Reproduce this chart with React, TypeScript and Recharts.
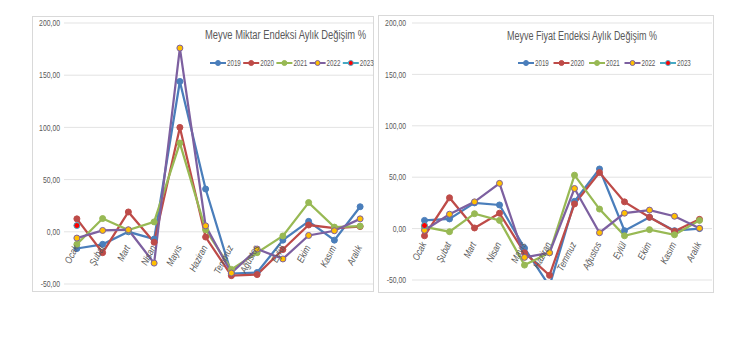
import React from 'react';
import { LineChart, Line, XAxis, YAxis, CartesianGrid, Legend } from 'recharts';

const months = ['Ocak', 'Şubat', 'Mart', 'Nisan', 'Mayıs', 'Haziran', 'Temmuz', 'Ağustos', 'Eylül', 'Ekim', 'Kasım', 'Aralık'];
const years = ['2019', '2020', '2021', '2022', '2023'];
const yTicks = [-50, 0, 50, 100, 150, 200];

// Meyve Miktar Endeksi
const miktar2019 = [-16, -12, 0, -7, 144, 41, -40, -39, -8, 10, -8, 24];
const miktar2020 = [12.4, -20, 19, -10, 100, -5, -42, -41, -17, 6.5, 3.5, 5];
const miktar2021 = [-12, 12.7, 1.6, 9.5, 85, 2, -36, -20, -4, 28, 4.5, 5.5];
const miktar2022 = [-6, 1.3, 2, -30, 176, 5.7, -39.5, -16.5, -26, -3.5, 1, 12.4];
const miktar2023 = [6, null, null, null, null, null, null, null, null, null, null, null];

// Meyve Fiyat Endeksi
const fiyat2019 = [8, 9.4, 25, 23, -19, -56, 26.5, 58, -2, 11, -2, 0];
const fiyat2020 = [-7, 30, 0.6, 15, -23.5, -45.5, 24, 54.5, 26, 11, -2.6, 9];
const fiyat2021 = [1.6, -3, 14.5, 8, -35.5, -23.5, 52, 19, -7, -1, -6, 8];
const fiyat2022 = [-1.6, 14, 26, 44, -28, -23.5, 39, -4, 15, 18, 12, 0.3];
const fiyat2023 = [3, null, null, null, null, null, null, null, null, null, null, null];

const lineColors = ['#4A7EBB', '#BE4B48', '#98B954', '#7D60A0', '#46AAC5'];
const markerColors = ['#4A7EBB', '#BE4B48', '#98B954', '#FFC000', '#FF0000'];

const FONT = '"Liberation Sans", Arial, sans-serif';
const TEXT = '#595959';

const buildRows = (series: (number | null)[][]) =>
  months.map((m, i) => {
    const row: Record<string, string | number | null> = { month: m };
    years.forEach((y, k) => {
      row[y] = series[k][i];
    });
    return row;
  });

const miktarData = buildRows([miktar2019, miktar2020, miktar2021, miktar2022, miktar2023]);
const fiyatData = buildRows([fiyat2019, fiyat2020, fiyat2021, fiyat2022, fiyat2023]);

const fmt = (v: number) => v.toFixed(2).replace('.', ',');

const MonthTick = ({ x, payload, zeroY }: any) => (
  <text
    transform={`translate(${x - 1},${zeroY + 14}) rotate(-63) scale(0.82,1)`}
    textAnchor="end"
    dy="0.35em"
    fontSize={10}
    fontStyle="italic"
    fill={TEXT}
    fontFamily={FONT}
  >
    {payload.value}
  </text>
);

const ValueTick = ({ x, y, payload }: any) => (
  <text
    transform={`translate(${x},${y}) scale(0.76,1)`}
    textAnchor="end"
    dy="0.35em"
    fontSize={9}
    fill={TEXT}
    fontFamily={FONT}
  >
    {fmt(payload.value)}
  </text>
);

const LegendBox = ({ step }: { step: number }) => (
  <svg width={step * 5 + 10} height={10} style={{ display: 'block', overflow: 'visible' }}>
    {years.map((y, i) => (
      <g key={y} transform={`translate(${i * step},0)`}>
        <line x1={0} y1={5} x2={16} y2={5} stroke={lineColors[i]} strokeWidth={2} />
        <circle cx={8} cy={5} r={2.5} fill={markerColors[i]} stroke={lineColors[i]} strokeWidth={1} />
        <text
          transform="translate(17,5) scale(0.73,1)"
          dy="0.35em"
          fontSize={8.5}
          fill={TEXT}
          fontFamily={FONT}
        >
          {y}
        </text>
      </g>
    ))}
  </svg>
);

interface PanelProps {
  data: Record<string, string | number | null>[];
  title: string;
  box: { left: number; top: number; width: number; height: number };
  margin: { top: number; right: number; bottom: number; left: number };
  yWidth: number;
  tickGap: number;
  titlePos: { left: number; top: number; scale: number };
  legendPos: { left: number; top: number; step: number };
}

function Panel({ data, title, box, margin, yWidth, tickGap, titlePos, legendPos }: PanelProps) {
  const w = box.width - 2;
  const h = box.height - 2;
  const plotH = h - margin.top - margin.bottom - 1;
  const plotW = w - margin.left - margin.right - yWidth;
  const half = plotW / months.length / 2;
  // category axis crosses the value axis at 0
  const zeroY = margin.top + (plotH * 200) / 250;
  return (
    <div
      style={{
        position: 'absolute',
        left: box.left,
        top: box.top,
        width: box.width,
        height: box.height,
        border: '1px solid #d9d9d9',
        boxSizing: 'border-box',
        background: '#fff',
      }}
    >
      <LineChart width={w} height={h} data={data} margin={margin}>
        <CartesianGrid vertical={false} stroke="#e3e3e3" strokeWidth={1} />
        <XAxis
          dataKey="month"
          height={1}
          axisLine={false}
          tickLine={false}
          tickSize={0}
          tickMargin={0}
          interval={0}
          padding={{ left: half, right: half }}
          tick={(p: any) => <MonthTick {...p} zeroY={zeroY} />}
        />
        <YAxis
          width={yWidth}
          domain={[-50, 200]}
          ticks={yTicks}
          interval={0}
          allowDataOverflow
          axisLine={false}
          tickLine={false}
          tickSize={0}
          tickMargin={tickGap}
          tick={(p: any) => <ValueTick {...p} />}
        />
        <Legend
          layout="horizontal"
          verticalAlign="middle"
          align="center"
          wrapperStyle={{ top: legendPos.top, left: legendPos.left, width: 'auto', height: 10 }}
          content={() => <LegendBox step={legendPos.step} />}
        />
        {years.map((y, i) => (
          <Line
            key={y}
            type="linear"
            dataKey={y}
            stroke={lineColors[i]}
            strokeWidth={2.25}
            dot={{ r: 3, fill: markerColors[i], stroke: lineColors[i], strokeWidth: 1 }}
            activeDot={false}
            isAnimationActive={false}
          />
        ))}
      </LineChart>
      <div
        style={{
          position: 'absolute',
          left: titlePos.left,
          top: titlePos.top,
          fontFamily: FONT,
          fontSize: 12,
          lineHeight: '12px',
          color: TEXT,
          whiteSpace: 'nowrap',
          transform: `scaleX(${titlePos.scale})`,
          transformOrigin: 'left top',
        }}
      >
        {title}
      </div>
    </div>
  );
}

export default function App() {
  return (
    <div style={{ position: 'absolute', left: 0, top: 0, width: 745, height: 351, background: '#fff' }}>
      <Panel
        data={miktarData}
        title="Meyve Miktar Endeksi Aylık Değişim %"
        box={{ left: 32, top: 16, width: 342, height: 276 }}
        margin={{ top: 6, right: 0, bottom: 6, left: 0 }}
        yWidth={31}
        tickGap={4}
        titlePos={{ left: 172, top: 12, scale: 0.78 }}
        legendPos={{ left: 177, top: 41, step: 33.2 }}
      />
      <Panel
        data={fiyatData}
        title="Meyve Fiyat Endeksi Aylık Değişim %"
        box={{ left: 378, top: 15, width: 336, height: 278 }}
        margin={{ top: 7, right: 1, bottom: 11, left: 0 }}
        yWidth={33}
        tickGap={6}
        titlePos={{ left: 128, top: 14, scale: 0.75 }}
        legendPos={{ left: 139, top: 42, step: 35.5 }}
      />
    </div>
  );
}
